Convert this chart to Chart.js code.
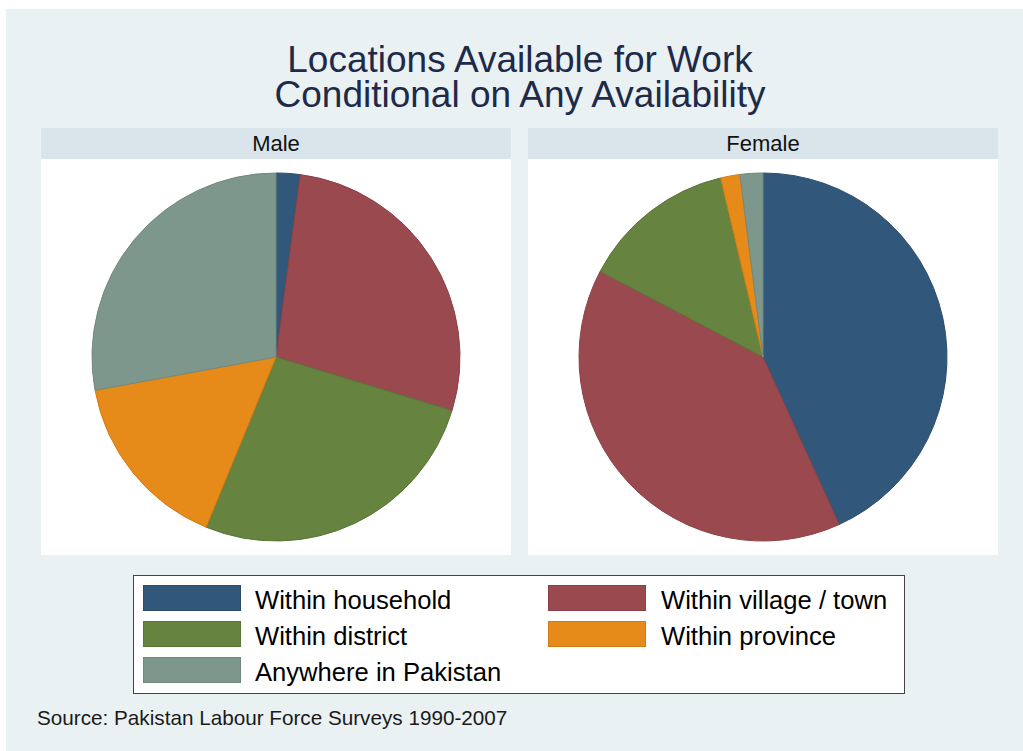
<!DOCTYPE html>
<html>
<head>
<meta charset="utf-8">
<script src="https://cdn.jsdelivr.net/npm/chart.js@4.4.1/dist/chart.umd.min.js"></script>
<style>
  html, body { margin:0; padding:0; background:#fff; }
  body { width:1023px; height:751px; position:relative; overflow:hidden; font-family:"Liberation Sans", Arial, sans-serif; }
  #bg { position:absolute; left:6px; top:9px; right:0; bottom:0; background:#eaf1f3; }
  .title { position:absolute; left:0; width:1040px; text-align:center; font-size:37px; color:#1e2a4a; line-height:36px; white-space:nowrap; }
  .hdr { position:absolute; top:128px; height:31px; width:470px; background:#d9e5eb; text-align:center; font-size:22px; line-height:31px; color:#111; }
  .panel { position:absolute; top:159px; width:470px; height:396px; background:#fff; }
  #legend { position:absolute; left:133px; top:575px; width:770px; height:117px; border:1.5px solid #444; background:#fff; }
  .sw { position:absolute; width:96px; height:24px; }
  .lt { position:absolute; font-size:25.6px; line-height:26px; color:#000; white-space:nowrap; }
  #src { position:absolute; left:37px; top:706px; font-size:20.7px; line-height:24px; color:#1a1a1a; white-space:nowrap; }
</style>
</head>
<body>
<div id="bg"></div>
<div class="title" style="top:42px">Locations Available for Work</div>
<div class="title" style="top:77px">Conditional on Any Availability</div>

<div class="hdr" style="left:41px">Male</div>
<div class="hdr" style="left:528px">Female</div>
<div class="panel" style="left:41px"><canvas id="male-canvas"></canvas></div>
<div class="panel" style="left:528px"><canvas id="female-canvas"></canvas></div>

<div id="legend"></div>
<div id="src">Source: Pakistan Labour Force Surveys 1990-2007</div>

<script>
const categories = ['Within household', 'Within village / town', 'Within district', 'Within province', 'Anywhere in Pakistan'];
const maleShares = [2.1, 27.6, 26.5, 15.9, 27.9];
const femaleShares = [43.2, 39.5, 13.6, 1.7, 2.0];
const sliceColors = ['#31587a', '#9a4a4f', '#66833f', '#e68a19', '#7e978d'];
const edgeColors = ['#2a4c6a', '#8a4045', '#5a7437', '#d47c12', '#70887e'];

function makePie(id, values) {
  const el = document.getElementById(id);
  el.parentNode.style.position = 'absolute';
  return new Chart(el.getContext('2d'), {
    type: 'pie',
    data: { labels: categories, datasets: [{
      data: values, backgroundColor: sliceColors, borderColor: edgeColors, borderWidth: 1
    }]},
    options: { responsive: true, maintainAspectRatio: false, animation: false, radius: 184,
      layout: { padding: 0 },
      plugins: { legend: { display: false }, tooltip: { enabled: false } }
    }
  });
}
makePie('male-canvas', maleShares);
makePie('female-canvas', femaleShares);

// legend built from the same categories / colours
const leg = document.getElementById('legend');
const slots = [[0,0],[1,0],[0,1],[1,1],[0,2]];
categories.forEach((name, i) => {
  const [col, row] = slots[i];
  const sx = col ? 414 : 9, tx = col ? 527 : 121, y = 9 + row * 36;
  const sw = document.createElement('div');
  sw.className = 'sw';
  sw.style.left = sx + 'px'; sw.style.top = y + 'px';
  sw.style.background = sliceColors[i]; sw.style.border = '1px solid ' + edgeColors[i];
  leg.appendChild(sw);
  const t = document.createElement('div');
  t.className = 'lt';
  t.style.left = tx + 'px'; t.style.top = (y + 2) + 'px';
  t.textContent = name;
  leg.appendChild(t);
});
</script>
</body>
</html>
